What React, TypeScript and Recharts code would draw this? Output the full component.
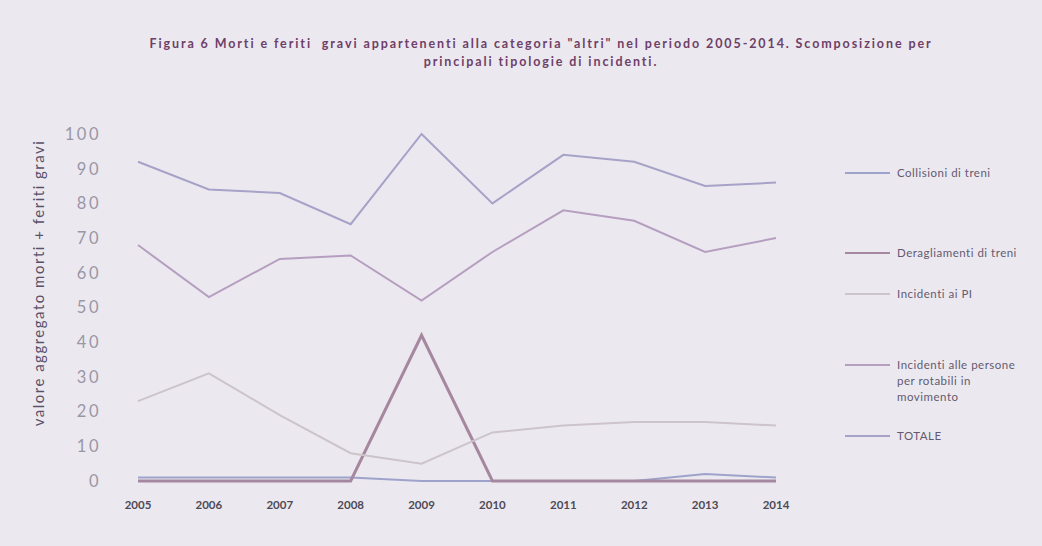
import React from 'react';
import { LineChart, Line, XAxis, YAxis } from 'recharts';

const years = ['2005', '2006', '2007', '2008', '2009', '2010', '2011', '2012', '2013', '2014'];
const collisioni = [1, 1, 1, 1, 0, 0, 0, 0, 2, 1];
const deragliamenti = [0, 0, 0, 0, 42, 0, 0, 0, 0, 0];
const incidentiPI = [23, 31, 19, 8, 5, 14, 16, 17, 17, 16];
const incidentiPersone = [68, 53, 64, 65, 52, 66, 78, 75, 66, 70];
const totale = [92, 84, 83, 74, 100, 80, 94, 92, 85, 86];
const yTicks = [0, 10, 20, 30, 40, 50, 60, 70, 80, 90, 100];

const seriesNames = [
  'Collisioni di treni',
  'Deragliamenti di treni',
  'Incidenti ai PI',
  'Incidenti alle persone per rotabili in movimento',
  'TOTALE',
];
const legendLabelLines = [
  ['Collisioni di treni'],
  ['Deragliamenti di treni'],
  ['Incidenti ai PI'],
  ['Incidenti alle persone', 'per rotabili in', 'movimento'],
  ['TOTALE'],
];
const titleLines = [
  'Figura 6 Morti e feriti  gravi appartenenti alla categoria "altri" nel periodo 2005-2014. Scomposizione per',
  'principali tipologie di incidenti.',
];
const yAxisTitle = 'valore aggregato morti + feriti gravi';

const seriesKeys = ['collisioni', 'deragliamenti', 'pi', 'persone', 'totale'];
const seriesValues = [collisioni, deragliamenti, incidentiPI, incidentiPersone, totale];

const data = years.map((y, i) => {
  const row: Record<string, string | number> = { year: y };
  seriesKeys.forEach((k, j) => {
    row[k] = seriesValues[j][i];
  });
  return row;
});

const colors = ['#9ea3cc', '#a5879f', '#cdc3cb', '#b69ec0', '#a6a2c8'];
const widths = [2, 3, 2, 2, 2];
const legendTops = [173, 253, 294, 365, 436];

export default function App() {
  return (
    <div
      style={{
        position: 'absolute',
        left: 0,
        top: 0,
        width: 1042,
        height: 546,
        overflow: 'hidden',
        background: '#ebe9ef',
        fontFamily: 'Lato, sans-serif',
      }}
    >
      <div
        style={{
          position: 'absolute',
          left: 20,
          top: 35,
          width: 1042,
          textAlign: 'center',
          color: '#6e3f68',
          fontWeight: 'bold',
          fontSize: 12.5,
          letterSpacing: 1.9,
          lineHeight: '18px',
        }}
      >
        {titleLines.map((t, i) => (
          <div key={i} style={{ whiteSpace: 'pre' }}>{t}</div>
        ))}
      </div>
      <LineChart
        width={1042}
        height={546}
        data={data}
        margin={{ top: 134, right: 266, bottom: 35, left: 38 }}
      >
        <XAxis
          dataKey="year"
          axisLine={false}
          tickLine={false}
          tickMargin={14}
          interval={0}
          tick={{ fill: '#4e4956', fontSize: 11.5, fontWeight: 'bold' }}
        />
        <YAxis
          width={100}
          domain={[0, 100]}
          ticks={yTicks}
          axisLine={false}
          tickLine={false}
          tickMargin={31}
          tick={{ fill: '#9a96a6', fontSize: 16.5, letterSpacing: 2.5 }}
          label={{
            content: () => (
              <text
                transform="translate(40,283) rotate(-90)"
                textAnchor="middle"
                dominantBaseline="middle"
                fill="#5a5068"
                fontSize={15}
                letterSpacing={1.5}
              >
                {yAxisTitle}
              </text>
            ),
          }}
        />
        {seriesKeys.map((k, j) => (
          <Line
            key={k}
            type="linear"
            dataKey={k}
            name={seriesNames[j]}
            stroke={colors[j]}
            strokeWidth={widths[j]}
            dot={false}
            isAnimationActive={false}
          />
        ))}
      </LineChart>
      {legendLabelLines.map((lines, j) => (
        <div
          key={j}
          style={{
            position: 'absolute',
            left: 845,
            top: legendTops[j] - 8,
            display: 'flex',
            alignItems: 'flex-start',
            color: '#65596f',
            fontSize: 11.5,
            letterSpacing: 0.5,
            lineHeight: '16px',
            whiteSpace: 'nowrap',
          }}
        >
          <div style={{ width: 45, height: 2, marginTop: 7, background: colors[j] }} />
          <div style={{ marginLeft: 7 }}>
            {lines.map((l, i) => (
              <div key={i}>{l}</div>
            ))}
          </div>
        </div>
      ))}
    </div>
  );
}
